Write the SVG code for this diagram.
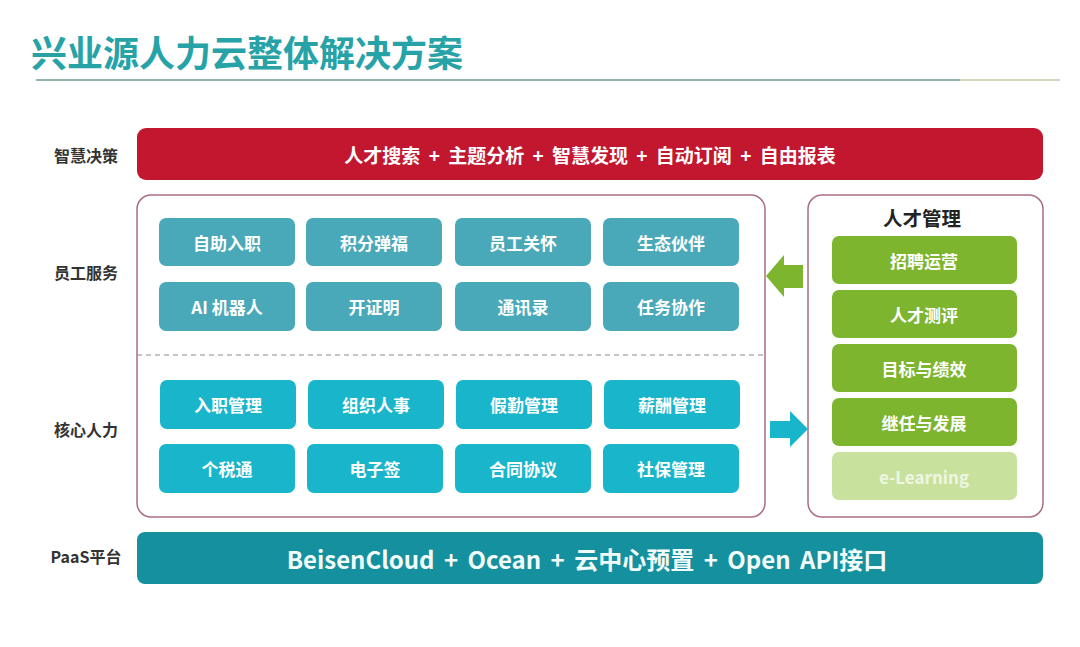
<svg xmlns="http://www.w3.org/2000/svg" width="1080" height="647" viewBox="0 0 1080 647">
<style>
text{font-family:"Noto Sans CJK SC","Open Sans","Liberation Sans",sans-serif;font-weight:bold}
.lbl{font-size:16px;fill:#333;text-anchor:middle;dominant-baseline:central}
.ct{font-size:17px;fill:#fff;text-anchor:middle;dominant-baseline:central}
.es{fill:#4aa9b8}
.hr{fill:#19b6cb}
.tm{fill:#7db52f}
.frame{fill:#fff;stroke:#a9707e;stroke-width:1.5}
</style>
<rect width="1080" height="647" fill="#fff"/>
<text x="31" y="51" font-size="36" fill="#27a3a8" dominant-baseline="central">兴业源人力云整体解决方案</text>
<line x1="36" y1="80" x2="960" y2="80" stroke="#6f9a95" stroke-width="1.5"/>
<line x1="960" y1="80" x2="1060" y2="80" stroke="#c9c8a8" stroke-width="1.5"/>

<g id="labels">
<text class="lbl" x="86" y="155">智慧决策</text>
<text class="lbl" x="86" y="272">员工服务</text>
<text class="lbl" x="86" y="429">核心人力</text>
<text class="lbl" x="86" y="556">PaaS平台</text>
</g>

<g id="decision">
<rect x="137" y="128" width="906" height="52" rx="9" fill="#c2172f"/>
<text x="590" y="154" font-size="19" fill="#fff" text-anchor="middle" dominant-baseline="central" word-spacing="4">人才搜索 + 主题分析 + 智慧发现 + 自动订阅 + 自由报表</text>
</g>

<g id="core-frame">
<rect class="frame" x="137" y="195" width="628" height="322" rx="14"/>
<line x1="137" y1="355" x2="765" y2="355" stroke="#8a8a8a" stroke-width="1" stroke-dasharray="5,4"/>
</g>

<g id="employee-service">
<rect class="es" x="159" y="218" width="136" height="48" rx="7"/><text class="ct" x="227" y="242">自助入职</text>
<rect class="es" x="306" y="218" width="136" height="48" rx="7"/><text class="ct" x="374" y="242">积分弹福</text>
<rect class="es" x="455" y="218" width="136" height="48" rx="7"/><text class="ct" x="523" y="242">员工关怀</text>
<rect class="es" x="603" y="218" width="136" height="48" rx="7"/><text class="ct" x="671" y="242">生态伙伴</text>
<rect class="es" x="159" y="282" width="136" height="49" rx="7"/><text class="ct" x="227" y="306">AI 机器人</text>
<rect class="es" x="306" y="282" width="136" height="49" rx="7"/><text class="ct" x="374" y="306">开证明</text>
<rect class="es" x="455" y="282" width="136" height="49" rx="7"/><text class="ct" x="523" y="306">通讯录</text>
<rect class="es" x="603" y="282" width="136" height="49" rx="7"/><text class="ct" x="671" y="306">任务协作</text>
</g>

<g id="core-hr">
<rect class="hr" x="160" y="380" width="136" height="49" rx="7"/><text class="ct" x="228" y="404">入职管理</text>
<rect class="hr" x="308" y="380" width="136" height="49" rx="7"/><text class="ct" x="376" y="404">组织人事</text>
<rect class="hr" x="456" y="380" width="136" height="49" rx="7"/><text class="ct" x="524" y="404">假勤管理</text>
<rect class="hr" x="604" y="380" width="136" height="49" rx="7"/><text class="ct" x="672" y="404">薪酬管理</text>
<rect class="hr" x="159" y="444" width="136" height="49" rx="7"/><text class="ct" x="227" y="468">个税通</text>
<rect class="hr" x="307" y="444" width="136" height="49" rx="7"/><text class="ct" x="375" y="468">电子签</text>
<rect class="hr" x="455" y="444" width="136" height="49" rx="7"/><text class="ct" x="523" y="468">合同协议</text>
<rect class="hr" x="603" y="444" width="136" height="49" rx="7"/><text class="ct" x="671" y="468">社保管理</text>
</g>

<g id="talent">
<rect class="frame" x="808" y="195" width="235" height="322" rx="14"/>
<text x="922" y="217" font-size="19.5" fill="#222" text-anchor="middle" dominant-baseline="central">人才管理</text>
<rect class="tm" x="832" y="236" width="185" height="48" rx="7"/><text class="ct" x="924" y="260">招聘运营</text>
<rect class="tm" x="832" y="290" width="185" height="48" rx="7"/><text class="ct" x="924" y="314">人才测评</text>
<rect class="tm" x="832" y="344" width="185" height="48" rx="7"/><text class="ct" x="924" y="368">目标与绩效</text>
<rect class="tm" x="832" y="398" width="185" height="48" rx="7"/><text class="ct" x="924" y="422">继任与发展</text>
<rect x="832" y="452" width="185" height="48" rx="7" fill="#c8e29e"/><text class="ct" x="924" y="476" style="fill:#eef6e2">e-Learning</text>
</g>

<g id="connectors">
<polygon points="766,276 784,255 784,265 803,265 803,288 784,288 784,297" fill="#7db52f"/>
<polygon points="808,429 790,411 790,421 770,421 770,438 790,438 790,447" fill="#19b6cb"/>
</g>

<g id="paas">
<rect x="137" y="532" width="906" height="52" rx="8" fill="#14909e"/>
<text x="587" y="558" font-size="24" fill="#f2fbfb" text-anchor="middle" dominant-baseline="central" word-spacing="4">BeisenCloud + Ocean + 云中心预置 + Open API接口</text>
</g>
</svg>
